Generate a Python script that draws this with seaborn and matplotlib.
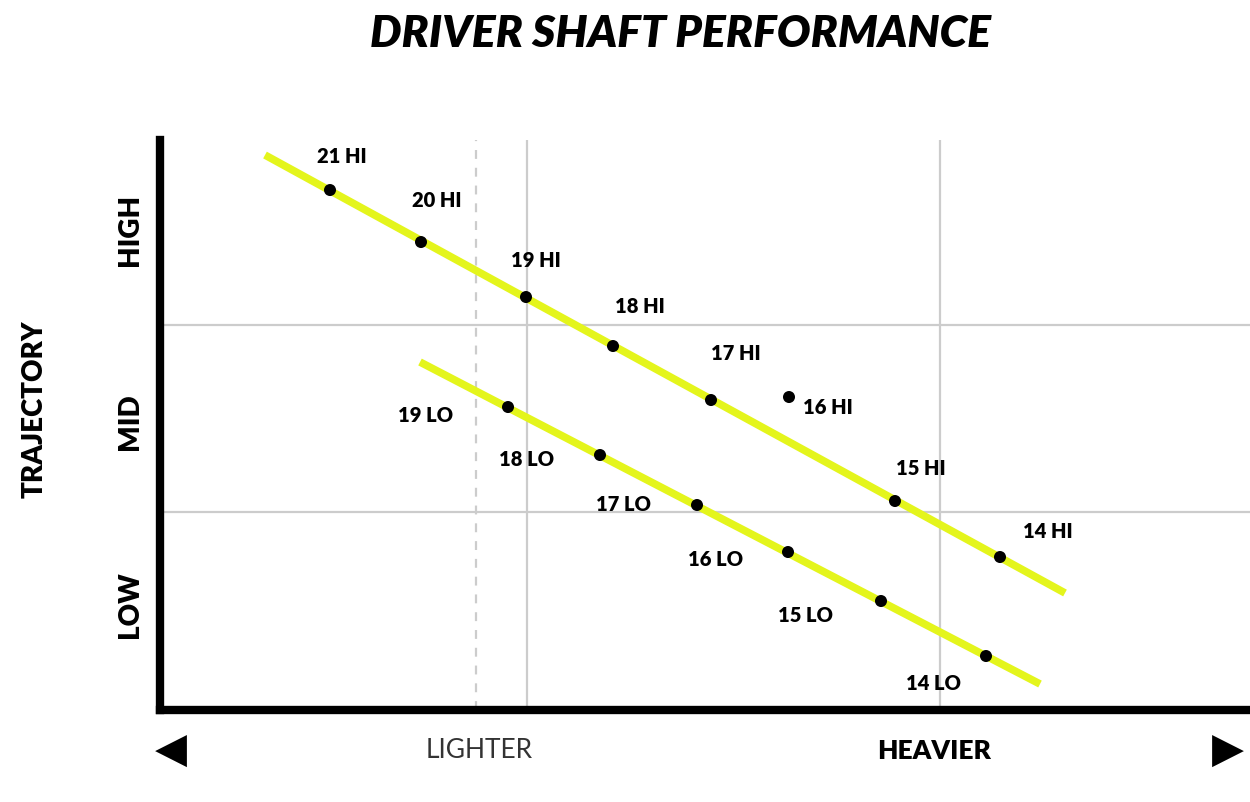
import matplotlib
matplotlib.use("Agg")
import matplotlib.pyplot as plt
import pandas as pd
import seaborn as sns

# shaft weights / trajectory (arbitrary units)
hi_labels = ["21 HI", "20 HI", "19 HI", "18 HI", "17 HI", "16 HI", "15 HI", "14 HI"]
hi_weight = [17.0, 26.1, 36.6, 45.3, 55.1, 62.9, 73.5, 84.0]
hi_traj = [52.0, 46.8, 41.3, 36.4, 31.0, 31.3, 20.9, 15.3]

lo_labels = ["19 LO", "18 LO", "17 LO", "16 LO", "15 LO", "14 LO"]
lo_weight = [34.8, 44.0, 53.7, 62.8, 72.1, 82.6]
lo_traj = [30.3, 25.5, 20.5, 15.8, 10.9, 5.4]

# trend lines
hi_line_x = [10.5, 90.5]
hi_line_y = [55.5, 11.7]
lo_line_x = [26.0, 88.0]
lo_line_y = [34.8, 2.6]

traj_ticks = [48.0, 28.8, 10.5]
traj_names = ["HIGH", "MID", "LOW"]

# label offsets in pixels (dx, dy), dy down
hi_off = [(12, -34), (16, -42), (10, -37), (27, -40), (25, -47), (39, 10), (26, -33), (48, -26)]
lo_off = [(-82, 8), (-73, 4), (-73, -1), (-72, 7), (-75, 14), (-52, 27)]

sns.set_style("white")
plt.rcParams['font.family'] = ['Lato', 'DejaVu Sans']
plt.rcParams['text.color'] = 'black'

fig = plt.figure(figsize=(12.5, 8.02), dpi=100)
ax = fig.add_axes([0.128, 0.1147, 0.872, 0.7107])

yellow = "#e4f51c"
sns.lineplot(x=hi_line_x, y=hi_line_y, ax=ax, color=yellow, linewidth=5.5, solid_capstyle="butt")
sns.lineplot(x=lo_line_x, y=lo_line_y, ax=ax, color=yellow, linewidth=5.5, solid_capstyle="butt")

pts = pd.DataFrame({
    "weight": hi_weight + lo_weight,
    "traj": hi_traj + lo_traj,
})
sns.scatterplot(data=pts, x="weight", y="traj", ax=ax, color="black", s=75, edgecolor="none", zorder=5)

for lab, x, y, (dx, dy) in zip(hi_labels + lo_labels, hi_weight + lo_weight, hi_traj + lo_traj, hi_off + lo_off):
    ax.annotate(lab, (x, y), xytext=(dx, -dy), textcoords="offset pixels",
                ha="center", va="center", fontsize=14.5, fontweight="heavy", color="black")

ax.set_xlim(0, 109)
ax.set_ylim(0, 57)

# grid
for gx in [36.7, 78.0]:
    ax.axvline(gx, color="#cccccc", linewidth=1.6, zorder=0)
ax.axvline(31.6, color="#cccccc", linewidth=1.6, linestyle=(0, (4, 4)), zorder=0)
for gy in [38.5, 19.8]:
    ax.axhline(gy, color="#cccccc", linewidth=1.6, zorder=0)

ax.set_xticks([])
ax.set_yticks(traj_ticks)
ax.set_yticklabels(traj_names, rotation=90, va="center", fontsize=20, fontweight="heavy", color="black")
ax.tick_params(axis="y", length=0, pad=12)
ax.set_ylabel("TRAJECTORY", fontsize=20, fontweight="heavy", color="black")
ax.yaxis.set_label_coords(-0.103, 0.528)
ax.set_xlabel("")

for side in ["top", "right"]:
    ax.spines[side].set_visible(False)
for side in ["left", "bottom"]:
    ax.spines[side].set_linewidth(6)
    ax.spines[side].set_color("black")

fig.text(0.544, 0.958, "DRIVER SHAFT PERFORMANCE", ha="center", va="center",
         fontsize=32, fontweight="heavy", fontstyle="italic", color="black")
fig.text(0.383, 0.064, "LIGHTER", ha="center", va="center", fontsize=19,
         fontweight="normal", color="#333333")
fig.text(0.747, 0.064, "HEAVIER", ha="center", va="center", fontsize=19,
         fontweight="heavy", color="black")
fig.text(0.137, 0.064, "\u25C0", ha="center", va="center", fontsize=30, color="black",
         family="DejaVu Sans")
fig.text(0.982, 0.064, "\u25B6", ha="center", va="center", fontsize=30, color="black",
         family="DejaVu Sans")

fig.savefig("out.png", dpi=100)
